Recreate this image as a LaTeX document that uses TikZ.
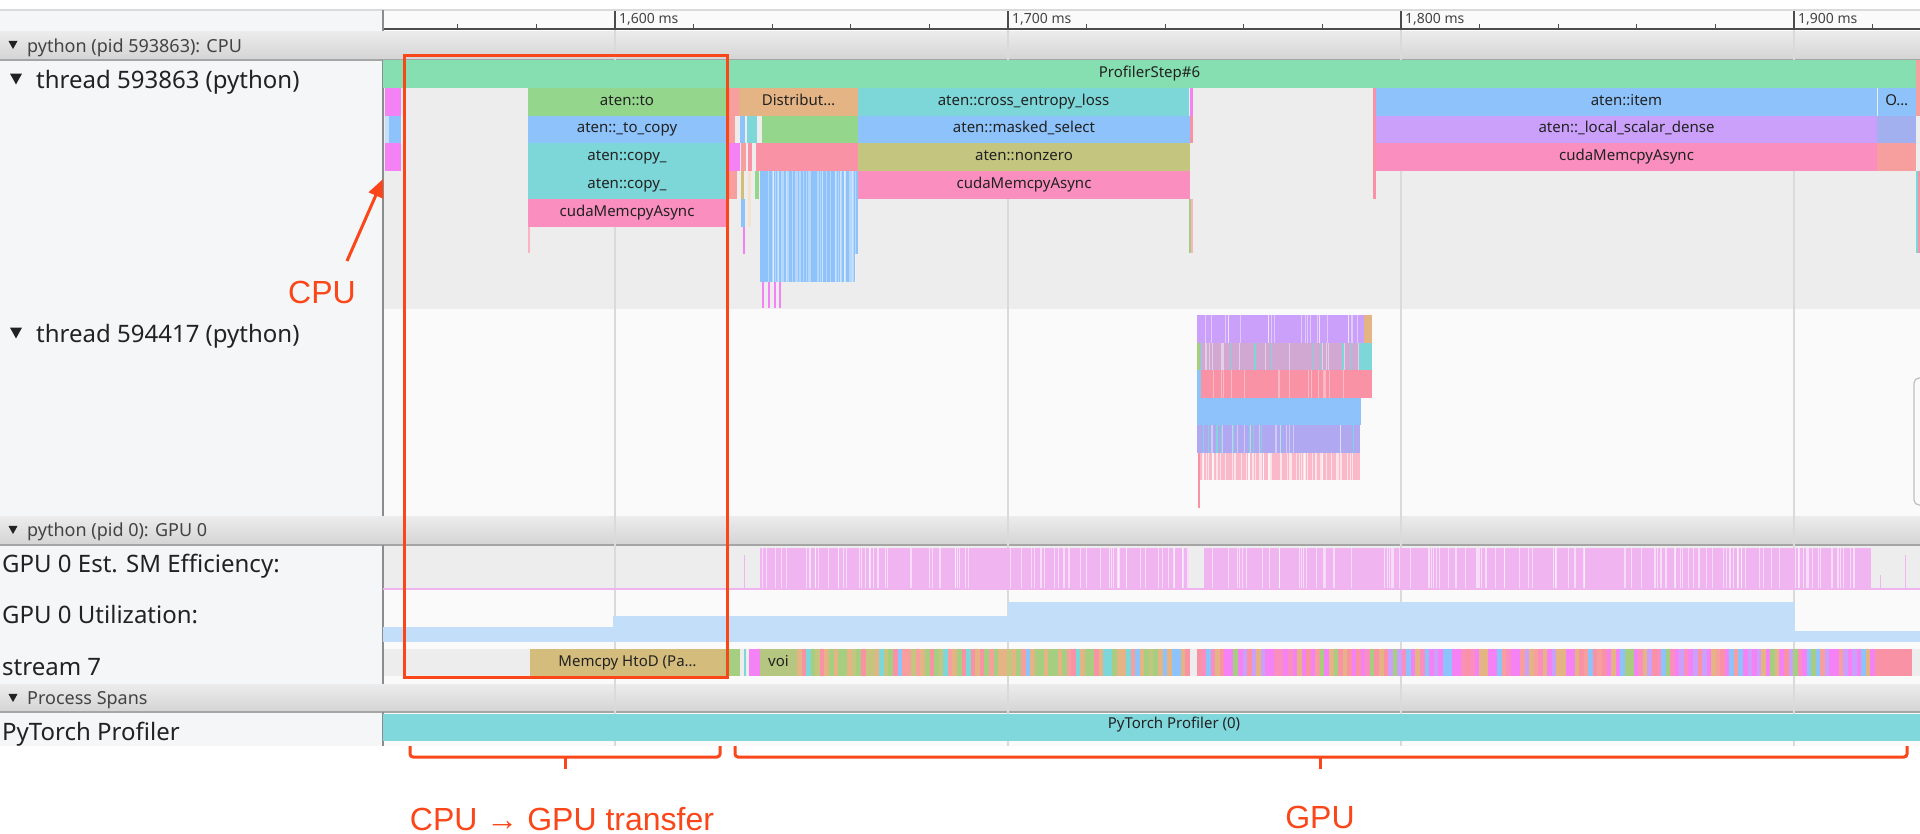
\documentclass[tikz,border=0pt]{standalone}
\usepackage{fontspec}
\setmainfont{Noto Sans}
\newfontfamily\uif{Noto Sans}
\newfontfamily\annf{Liberation Sans}
\usetikzlibrary{arrows.meta}
\definecolor{colbg}{RGB}{245,246,247}
\definecolor{trkA}{RGB}{237,237,237}
\definecolor{trkB}{RGB}{250,250,250}
\definecolor{hdrT}{RGB}{236,236,236}
\definecolor{hdrB}{RGB}{212,212,212}
\definecolor{hdrL}{RGB}{165,165,165}
\definecolor{gridc}{RGB}{218,218,218}
\definecolor{cStep}{RGB}{134,223,176}
\definecolor{cGreen}{RGB}{148,215,140}
\definecolor{cBlue}{RGB}{141,194,250}
\definecolor{cTeal}{RGB}{125,214,216}
\definecolor{cPink}{RGB}{250,142,190}
\definecolor{cOrange}{RGB}{228,180,132}
\definecolor{cOlive}{RGB}{196,198,128}
\definecolor{cPurple}{RGB}{202,160,250}
\definecolor{cSalmon}{RGB}{247,158,158}
\definecolor{cRose}{RGB}{250,146,166}
\definecolor{cMag}{RGB}{245,130,245}
\definecolor{cTan}{RGB}{212,188,124}
\definecolor{cVoi}{RGB}{180,198,128}
\definecolor{cSGreen}{RGB}{166,206,128}
\definecolor{cProf}{RGB}{128,216,220}
\definecolor{cSM}{RGB}{240,180,240}
\definecolor{cUtil}{RGB}{194,222,248}
\definecolor{cMauve}{RGB}{208,168,210}
\definecolor{cLPink}{RGB}{250,185,200}
\definecolor{cPB}{RGB}{176,168,240}
\definecolor{cLav}{RGB}{162,176,240}
\definecolor{redc}{RGB}{250,70,25}
\definecolor{txt}{RGB}{34,34,34}
\tikzset{
  evlbl/.style={anchor=base,inner sep=0pt,text=txt,font=\uif\fontsize{15}{17}\selectfont},
  biglbl/.style={anchor=base west,inner sep=0pt,text=txt,font=\uif\fontsize{24}{28}\selectfont},
  hdrlbl/.style={anchor=base west,inner sep=0pt,text=txt!85,font=\uif\fontsize{18}{20}\selectfont},
  ticklbl/.style={anchor=base west,inner sep=0pt,text=txt!85,font=\uif\fontsize{14}{16}\selectfont},
  annlbl/.style={anchor=base,inner sep=0pt,text=redc,font=\annf\fontsize{32}{36}\selectfont},
  redline/.style={draw=redc,line width=3pt},
  gridline/.style={draw=gridc,line width=1.2pt},
}
\newcommand\evl[7]{\fill[#6] (#2,#3) rectangle (#4,#5); \node[evlbl] (#1) at ({(#2+#4)/2},{#3+17}) {#7};}
\newcommand\bx[5]{\fill[#5] (#1,#2) rectangle (#3,#4);}
\newcommand\lstripes[6]{\foreach \k in {1,...,#5}{\pgfmathsetmacro\xx{#1+rnd*(#3-#1)}\fill[#6] (\xx,#2) rectangle ({\xx+1.1},#4);}}
\newcommand\hdrbar[2]{\shade[top color=hdrT,bottom color=hdrB] (0,#1) rectangle (1920,#2); \draw[hdrL,line width=1.5pt] (0,#2) -- (1920,#2);}
\newcommand\dtri[3]{\fill[txt] ({#1-#3/2},{#2-#3*0.45}) -- ({#1+#3/2},{#2-#3*0.45}) -- (#1,{#2+#3*0.45}) -- cycle;}
\pgfmathdeclarerandomlist{sA}{{cOrange}{cSGreen}{cBlue}{cRose}{cTeal}{cOlive}{cSalmon}{cOrange}{cSGreen}}
\pgfmathdeclarerandomlist{sB}{{cMag}{cRose}{cSalmon}{cSGreen}{cPurple}{cBlue}{cMag}{cOrange}{cPink}}
\begin{document}
\begin{tikzpicture}[x=1pt,y=-1pt]
\pgfmathsetseed{7}
\useasboundingbox (0,0) rectangle (1920,833);
\fill[white] (0,0) rectangle (1920,833);
% ---------- backgrounds
\fill[colbg] (0,10) rectangle (383,746);
\fill[trkB] (383,10) rectangle (1920,29);
\draw[gridc,line width=1.5pt] (0,10) -- (1920,10);
\fill[trkA] (383,60) rectangle (1920,309);
\fill[trkB] (383,309) rectangle (1920,516);
\fill[trkA] (383,545) rectangle (1920,590);
\fill[trkB] (383,590) rectangle (1920,649);
\fill[trkA] (383,649) rectangle (1920,676);
\fill[trkB] (383,676) rectangle (1920,684);
\fill[trkB] (383,712) rectangle (1920,746);
% header bars
\hdrbar{31}{60}
\hdrbar{516}{545}
\hdrbar{684}{712}
% grid lines
\foreach \gx in {615,1008,1401,1794}{\draw[gridline] (\gx,29) -- (\gx,746);}
% ruler
\draw[black!70,line width=1.3pt] (383,29) -- (1920,29);
\foreach \t in {0,...,18}{\draw[black!70,line width=1.1pt] ({457.8+78.6*\t},24) -- ({457.8+78.6*\t},29);}
\foreach \gx/\lab in {615/{1,600 ms},1008/{1,700 ms},1401/{1,800 ms},1794/{1,900 ms}}{
  \draw[black!70,line width=1.1pt] (\gx,11) -- (\gx,29);
  \node[ticklbl] at ({\gx+4},23) {\lab};}
% column border
\draw[black!45,line width=1.2pt] (383,10) -- (383,31);
\draw[black!45,line width=1.2pt] (383,60) -- (383,516);
\draw[black!45,line width=1.2pt] (383,545) -- (383,684);
\draw[black!45,line width=1.2pt] (383,712) -- (383,746);
% ---------- thread 593863
\evl{step}{383}{60}{1916}{88}{cStep}{ProfilerStep\#6}
\bx{1916}{60}{1920}{88}{cSalmon}
% row 1
\bx{385}{88}{401}{115.5}{cMag}
\evl{ato}{528}{88}{726}{115.5}{cGreen}{aten::to}
\bx{726}{88}{739}{115.5}{cSalmon}
\evl{dist}{739}{88}{858}{115.5}{cOrange}{Distribut…}
\evl{cel}{858}{88}{1189}{115.5}{cTeal}{aten::cross\_entropy\_loss}
\bx{1190}{88}{1193}{115.5}{cMag}
\bx{1373}{88}{1376}{199}{cRose}
\evl{item}{1376}{88}{1877}{115.5}{cBlue}{aten::item}
\evl{oo}{1877.5}{88}{1916}{115.5}{cBlue}{O…}
\bx{1916}{88}{1920}{115.5}{cSalmon}
% row 2
\bx{385}{115.5}{401}{143}{cBlue}
\bx{385}{115.5}{389}{143}{cBlue!50}
\evl{tocopy}{528}{115.5}{726}{143}{cBlue}{aten::\_to\_copy}
\bx{726}{115.5}{735}{143}{cSalmon}
\bx{740}{115.5}{745}{143}{cBlue}
\bx{747}{115.5}{757}{143}{cTeal}
\bx{762}{115.5}{858}{143}{cGreen}
\evl{msel}{858}{115.5}{1190}{143}{cBlue}{aten::masked\_select}
\bx{1190}{115.5}{1193}{143}{cRose}
\evl{lsd}{1376}{115.5}{1877}{143}{cPurple}{aten::\_local\_scalar\_dense}
\bx{1877}{115.5}{1916}{143}{cLav}
% row 3
\bx{385}{143}{401}{171}{cMag}
\evl{copya}{528}{143}{726}{171}{cTeal}{aten::copy\_}
\bx{726}{143}{740}{171}{cMag}
\bx{741}{143}{746}{171}{cSalmon}
\bx{748}{143}{752}{171}{cRose}
\bx{756}{143}{858}{171}{cRose}
\evl{nz}{858}{143}{1190}{171}{cOlive}{aten::nonzero}
\evl{cma}{1376}{143}{1877}{171}{cPink}{cudaMemcpyAsync}
\bx{1877}{143}{1916}{171}{cSalmon}
% row 4
\evl{copyb}{528}{171}{726}{199}{cTeal}{aten::copy\_}
\bx{726}{171}{737}{199}{cSalmon}
\bx{741}{171}{744}{199}{cTan}
\bx{748}{171}{751}{227}{cOrange!40}
\bx{755}{171}{759}{199}{cGreen}
\bx{760}{171}{858}{254}{cBlue}
\bx{760}{254}{855}{282}{cBlue}
\lstripes{762}{171}{856}{282}{45}{white,opacity=0.35}
\evl{cmb}{858}{171}{1190}{199}{cPink}{cudaMemcpyAsync}
% row 5
\evl{cmc}{528}{199}{726}{227}{cPink}{cudaMemcpyAsync}
\bx{741}{199}{745}{227}{cBlue}
\bx{743}{227}{745}{254}{cMag}
\foreach \mx in {762,768,774,779}{\bx{\mx}{282}{\mx+1.5}{308}{cMag}}
\bx{528}{227}{529.5}{253}{cRose!70}
\bx{1189}{199}{1190.5}{253}{cSGreen}
\bx{1191}{199}{1192.5}{253}{cRose!70}
\bx{1916}{171}{1917.5}{253}{cTeal}
\bx{1918}{171}{1919.5}{253}{cRose}
% ---------- thread 594417
\bx{1197}{315}{1364}{342.5}{cPurple}
\bx{1364}{315}{1372}{342.5}{cOrange}
\lstripes{1200}{315}{1362}{342.5}{22}{white,opacity=0.45}
\bx{1197}{342.5}{1359}{370}{cMauve}
\bx{1359}{342.5}{1372}{370}{cTeal}
\bx{1197}{342.5}{1200}{370}{cSGreen}
\lstripes{1200}{342.5}{1358}{370}{10}{cTeal}
\lstripes{1200}{342.5}{1358}{370}{14}{white,opacity=0.45}
\bx{1197}{370}{1201}{398}{cBlue}
\bx{1201}{370}{1372}{398}{cRose}
\lstripes{1203}{370}{1370}{398}{14}{white,opacity=0.35}
\bx{1197}{398}{1361}{425}{cBlue}
\bx{1197}{425}{1360}{453}{cPB}
\lstripes{1200}{425}{1358}{453}{10}{cTeal}
\lstripes{1200}{425}{1358}{453}{16}{white,opacity=0.4}
\bx{1199}{453}{1360}{480}{cLPink}
\lstripes{1200}{453}{1358}{480}{60}{white,opacity=0.6}
\bx{1197.5}{453}{1199.5}{508}{cRose}
\draw[black!25,line width=1.2pt,rounded corners=5pt] (1935,378) -- (1914,378) -- (1914,505) -- (1935,505);
% ---------- GPU SM efficiency
\bx{760}{548}{1189}{590}{cSM}
\bx{1204}{548}{1871}{590}{cSM}
\lstripes{762}{548}{1188}{590}{70}{white,opacity=0.55}
\lstripes{1206}{548}{1870}{590}{110}{white,opacity=0.55}
\bx{744}{555}{745.3}{590}{cSM}
\bx{1880}{575}{1881.3}{590}{cSM}
\bx{1905}{555}{1906.3}{590}{cSM}
\draw[cSM,line width=1.3pt] (383,589) -- (1920,589);
% ---------- GPU utilization
\bx{383}{627}{613}{642}{cUtil}
\bx{613}{616}{1008}{642}{cUtil}
\bx{1008}{602}{1795}{642}{cUtil}
\bx{1795}{631}{1920}{642}{cUtil}
% ---------- stream 7
\evl{memcpy}{530}{649}{725}{676}{cTan}{Memcpy HtoD (Pa…}
\bx{725}{649}{740}{676}{cSGreen}
\bx{744}{649}{746}{676}{cTeal}
\bx{749}{649}{760}{676}{cMag}
\evl{voi}{760}{649}{797}{676}{cVoi}{voi}
\foreach \k in {0,...,85}{\pgfmathrandomitem{\cc}{sA}\fill[\cc] ({797+\k*4.57},649) rectangle ({797+(\k+1)*4.57+0.3},676);}
\foreach \k in {0,...,148}{\pgfmathrandomitem{\cc}{sB}\fill[\cc] ({1197+\k*4.55},649) rectangle ({1197+(\k+1)*4.55+0.3},676);}
\bx{1875}{649}{1912}{676}{cRose}
% ---------- process spans
\fill[cProf] (383,714) rectangle (1920,741);
\node[evlbl] (prof) at (1174,728) {PyTorch Profiler (0)};
% ---------- left labels
\dtri{13}{45}{9}
\node[hdrlbl] (hcpu) at (27,52) {python (pid 593863): CPU};
\dtri{16}{79}{12}
\node[biglbl] (th1) at (36,88) {thread 593863 (python)};
\dtri{16}{333}{12}
\node[biglbl] (th2) at (36,342) {thread 594417 (python)};
\dtri{13}{530}{9}
\node[hdrlbl] (hgpu) at (27,536) {python (pid 0): GPU 0};
\node[biglbl] (sm) at (2,572) {GPU 0 Est. SM Efficiency:};
\node[biglbl] (util) at (2,623) {GPU 0 Utilization:};
\node[biglbl] (st7) at (2,675) {stream 7};
\dtri{13}{698}{9}
\node[hdrlbl] (hps) at (27,704) {Process Spans};
\node[biglbl] (ptp) at (2,740) {PyTorch Profiler};
% ---------- annotations
\draw[redline] (404,55) rectangle (727,677);
\node[annlbl] (cpu) at (322,303) {CPU};
\coordinate (arrtail) at (347,261);
\coordinate (arrtip) at (383,179);
\draw[redline,-{Triangle[length=18pt,width=15pt]}] (arrtail) -- (arrtip);
\draw[redline,rounded corners=3pt] (410,746) -- (410,757) -- (720,757) -- (720,746);
\draw[redline] (565,757) -- (565,769);
\draw[redline,rounded corners=3pt] (735,746) -- (735,757) -- (1907,757) -- (1907,746);
\draw[redline] (1320,757) -- (1320,769);
\node[annlbl] (ttr) at (562,830) {CPU → GPU transfer};
\node[annlbl] (tgpu) at (1320,828) {GPU};
\end{tikzpicture}
\end{document}
